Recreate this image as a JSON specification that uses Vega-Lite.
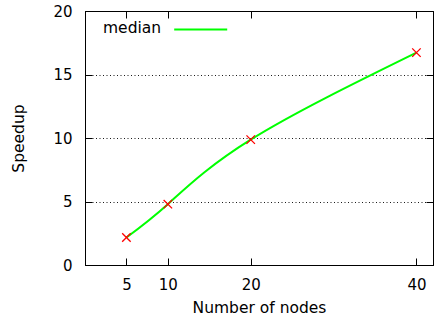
{
  "$schema": "https://vega.github.io/schema/vega-lite/v6.json",
  "autosize": {"type": "none"},
  "padding": {"left": 85, "top": 11, "right": 2, "bottom": 55},
  "width": 348,
  "height": 254,
  "background": "white",
  "config": {
    "font": "DejaVu Sans",
    "view": {"stroke": "black", "strokeWidth": 1},
    "axis": {
      "domainColor": "black",
      "tickColor": "black",
      "labelColor": "black",
      "titleColor": "black",
      "labelFont": "DejaVu Sans",
      "titleFont": "DejaVu Sans",
      "labelFontSize": 15,
      "titleFontSize": 15.5,
      "titleFontWeight": "normal",
      "tickSize": -7,
      "tickWidth": 1
    }
  },
  "data": {
    "values": [
      {"nodes": 5, "speedup": 2.17, "series": "median"},
      {"nodes": 10, "speedup": 4.79, "series": "median"},
      {"nodes": 20, "speedup": 9.87, "series": "median"},
      {"nodes": 40, "speedup": 16.72, "series": "median"}
    ]
  },
  "layer": [
    {
      "mark": {"type": "line", "interpolate": "natural", "strokeWidth": 2},
      "encoding": {
        "x": {
          "field": "nodes", "type": "quantitative",
          "scale": {"domain": [0, 42], "nice": false, "zero": false},
          "axis": {
            "orient": "bottom", "values": [5, 10, 20, 40], "title": "Number of nodes",
            "grid": false, "labelPadding": 19,
            "titleX": 174, "titleY": 42, "titleBaseline": "middle", "titleAlign": "center"
          }
        },
        "y": {
          "field": "speedup", "type": "quantitative",
          "scale": {"domain": [0, 20], "nice": false},
          "axis": {
            "orient": "left", "values": [0, 5, 10, 15, 20], "title": "Speedup",
            "grid": true, "gridColor": "black", "gridDash": [1, 2.5], "gridWidth": 1, "gridOpacity": 0.9,
            "labelPadding": 20,
            "titleX": -67, "titleY": 127, "titleAngle": -90, "titleBaseline": "middle", "titleAlign": "center"
          }
        },
        "color": {
          "field": "series", "type": "nominal",
          "scale": {"range": ["#00ff00"]},
          "legend": {
            "orient": "none", "legendX": 18, "legendY": 12,
            "title": "median", "titleOrient": "left", "titleFontSize": 15.5, "titleFontWeight": "normal",
            "titleColor": "black", "titleFont": "DejaVu Sans", "titlePadding": 11, "titleBaseline": "middle",
            "labelExpr": "''", "labelOffset": 0, "labelFontSize": 1,
            "symbolType": "M-1,0L9,0", "symbolSize": 112.36, "symbolStrokeWidth": 2, "padding": 0
          }
        }
      }
    },
    {
      "mark": {"type": "point", "shape": "M-1,-1L1,1M1,-1L-1,1", "filled": false, "stroke": "#ff0000", "color": "#ff0000", "strokeWidth": 1.3, "size": 72, "opacity": 1},
      "encoding": {
        "x": {
          "field": "nodes", "type": "quantitative",
          "axis": {"orient": "top", "values": [5, 10, 20, 40], "labels": false, "title": null, "grid": false}
        },
        "y": {
          "field": "speedup", "type": "quantitative",
          "axis": {"orient": "right", "values": [0, 5, 10, 15, 20], "labels": false, "title": null, "grid": false}
        }
      }
    }
  ],
  "resolve": {"axis": {"x": "independent", "y": "independent"}}
}
